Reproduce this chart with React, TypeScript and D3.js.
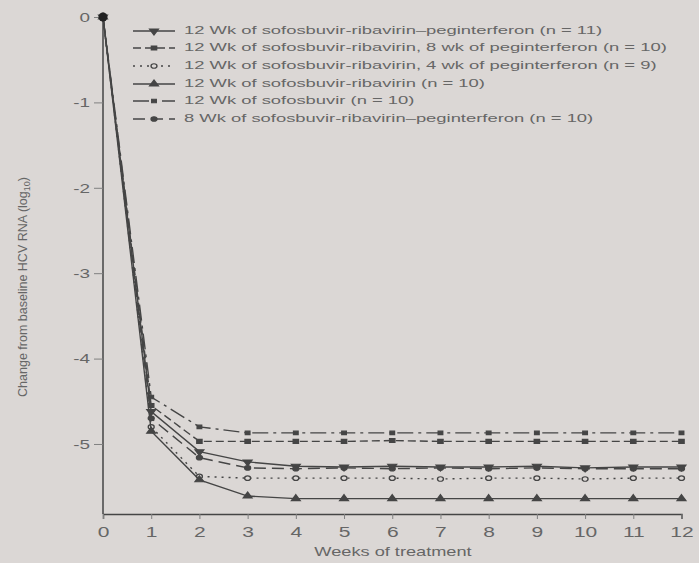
import React, { useEffect, useRef } from 'react';
import * as d3 from 'd3';

// weeks of treatment
const weeks = [0, 1, 2, 3, 4, 5, 6, 7, 8, 9, 10, 11, 12];
const yTicks = [0, -1, -2, -3, -4, -5];

const legendLabels = [
  '12 Wk of sofosbuvir-ribavirin\u2013peginterferon (n = 11)',
  '12 Wk of sofosbuvir-ribavirin, 8 wk of peginterferon (n = 10)',
  '12 Wk of sofosbuvir-ribavirin, 4 wk of peginterferon (n = 9)',
  '12 Wk of sofosbuvir-ribavirin (n = 10)',
  '12 Wk of sofosbuvir (n = 10)',
  '8 Wk of sofosbuvir-ribavirin\u2013peginterferon (n = 10)',
];

// change from baseline HCV RNA (log10), one value per week
const srp12 = [0, -4.62, -5.09, -5.21, -5.26, -5.27, -5.26, -5.27, -5.27, -5.26, -5.28, -5.27, -5.27];
const srPeg8 = [0, -4.55, -4.97, -4.97, -4.97, -4.97, -4.96, -4.97, -4.97, -4.97, -4.97, -4.97, -4.97];
const srPeg4 = [0, -4.8, -5.38, -5.4, -5.4, -5.4, -5.4, -5.41, -5.4, -5.4, -5.41, -5.4, -5.4];
const sr12 = [0, -4.85, -5.42, -5.61, -5.64, -5.64, -5.64, -5.64, -5.64, -5.64, -5.64, -5.64, -5.64];
const sof12 = [0, -4.45, -4.8, -4.87, -4.87, -4.87, -4.87, -4.87, -4.87, -4.87, -4.87, -4.87, -4.87];
const srp8 = [0, -4.7, -5.16, -5.28, -5.29, -5.28, -5.29, -5.28, -5.29, -5.28, -5.29, -5.29, -5.29];

const seriesValues = [srp12, srPeg8, srPeg4, sr12, sof12, srp8];

const W = 699;
const H = 563;
const bg = '#dbd7d5';
const ink = '#454545';
const textCol = '#666';
const font = 'Liberation Sans, Arial, sans-serif';

const styles = [
  { dash: null, symbol: d3.symbolTriangle, rotate: 180, fill: true, size: 20 },
  { dash: '8,4', symbol: d3.symbolSquare, rotate: 0, fill: true, size: 16 },
  { dash: '2,5', symbol: d3.symbolCircle, rotate: 0, fill: false, size: 16 },
  { dash: null, symbol: d3.symbolTriangle, rotate: 0, fill: true, size: 20 },
  { dash: '16,5,3,5', symbol: d3.symbolSquare, rotate: 0, fill: true, size: 12 },
  { dash: '12,6', symbol: d3.symbolCircle, rotate: 0, fill: true, size: 16 },
];

export default function App() {
  const ref = useRef<SVGSVGElement>(null);

  useEffect(() => {
    const svg = d3.select(ref.current);
    svg.selectAll('*').remove();

    const x = d3.scaleLinear().domain([0, 12]).range([103, 681.5]);
    const y = d3.scaleLinear().domain([0, -5.82]).range([17, 514]);

    svg.append('rect').attr('width', W).attr('height', H).attr('fill', bg);

    // y axis
    const gy = svg.append('g')
      .attr('transform', `translate(${x(0)},0)`)
      .call(d3.axisLeft(y).tickValues(yTicks).tickSize(9).tickPadding(4).tickFormat(d => String(d)));
    gy.select('.domain').attr('stroke', ink).attr('stroke-width', 1.5).attr('d', `M0,13V${y(-5.82)}`);
    gy.selectAll('.tick line').attr('stroke', '#808080');
    gy.selectAll('.tick text')
      .attr('fill', textCol)
      .attr('font-family', font)
      .attr('font-size', 13.5)
      .attr('x', -13 / 1.4)
      .attr('transform', 'scale(1.4,1)');

    // x axis
    const gx = svg.append('g')
      .attr('transform', `translate(0,${y(-5.82)})`)
      .call(d3.axisBottom(x).tickValues(weeks).tickSize(5).tickPadding(8).tickFormat(d => String(d)));
    gx.select('.domain').attr('stroke', ink).attr('stroke-width', 1.5);
    gx.selectAll('.tick line').attr('stroke', '#808080');
    gx.selectAll('.tick text')
      .attr('fill', textCol)
      .attr('font-family', font)
      .attr('font-size', 14.5)
      .attr('transform', 'scale(1.45,1)');

    // axis titles
    svg.append('text')
      .attr('transform', 'translate(393,553) scale(1.4,1)')
      .attr('text-anchor', 'middle')
      .attr('dominant-baseline', 'middle')
      .attr('font-family', font)
      .attr('font-size', 13)
      .attr('fill', textCol)
      .text('Weeks of treatment');

    const yt = svg.append('text')
      .attr('transform', 'translate(27,287) rotate(-90)')
      .attr('text-anchor', 'middle')
      .attr('font-family', font)
      .attr('font-size', 12.5)
      .attr('fill', textCol);
    yt.append('tspan').text('Change from baseline HCV RNA (log');
    yt.append('tspan').attr('font-size', 9).attr('dy', 3).text('10');
    yt.append('tspan').attr('dy', -3).text(')');

    const line = d3.line<number>()
      .x((_, i) => x(weeks[i]))
      .y(d => y(d));

    seriesValues.forEach((vals, si) => {
      const st = styles[si];
      svg.append('path')
        .attr('d', line(vals))
        .attr('fill', 'none')
        .attr('stroke', ink)
        .attr('stroke-width', 1.4)
        .attr('stroke-dasharray', st.dash);

      const sym = d3.symbol().type(st.symbol).size(st.size);
      svg.append('g').selectAll('path')
        .data(vals)
        .join('path')
        .attr('d', sym)
        .attr('transform', (d, i) => `translate(${x(weeks[i])},${y(d)}) scale(1.3,1) rotate(${st.rotate})`)
        .attr('fill', st.fill ? ink : bg)
        .attr('stroke', ink)
        .attr('stroke-width', 1.1);
    });

    // start point blob
    svg.append('circle').attr('cx', x(0)).attr('cy', y(0)).attr('r', 4.5).attr('fill', '#222');

    // legend
    const rowY = [31, 48, 66, 84, 101, 119];
    legendLabels.forEach((label, i) => {
      const st = styles[i];
      const g = svg.append('g').attr('transform', `translate(0,${rowY[i]})`);
      g.append('line')
        .attr('x1', 133).attr('x2', 175)
        .attr('stroke', ink)
        .attr('stroke-width', 1.4)
        .attr('stroke-dasharray', st.dash);
      g.append('path')
        .attr('d', d3.symbol().type(st.symbol).size(st.size)())
        .attr('transform', `translate(154,0) scale(1.3,1) rotate(${st.rotate})`)
        .attr('fill', st.fill ? ink : bg)
        .attr('stroke', ink)
        .attr('stroke-width', 1.1);
      g.append('text')
        .attr('transform', 'translate(184,0) scale(1.6,1)')
        .attr('dominant-baseline', 'middle')
        .attr('font-family', font)
        .attr('font-size', 11.5)
        .attr('fill', textCol)
        .text(label);
    });
  }, []);

  return (
    <svg
      ref={ref}
      width={W}
      height={H}
      style={{ position: 'absolute', left: 0, top: 0, display: 'block' }}
    />
  );
}
